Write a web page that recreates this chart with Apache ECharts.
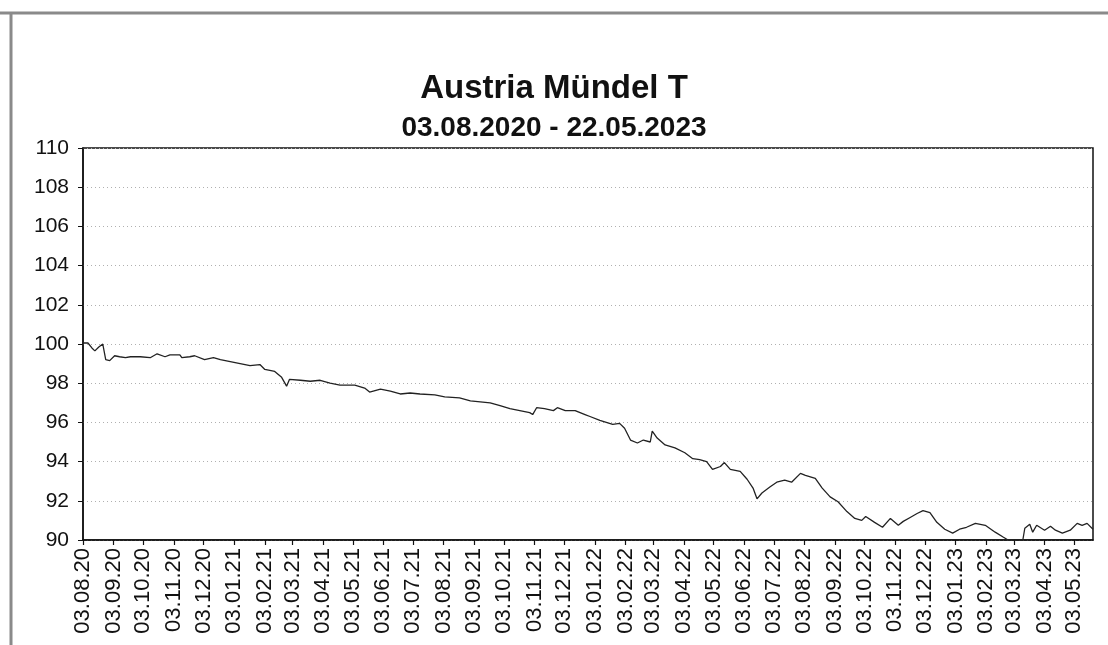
<!DOCTYPE html>
<html>
<head>
<meta charset="utf-8">
<script src="https://cdn.jsdelivr.net/npm/echarts@6/dist/echarts.min.js"></script>
<style>
html,body{margin:0;padding:0;background:#fff;}
#chart{width:1108px;height:645px;}
</style>
</head>
<body>
<div id="chart"></div>
<script>
// ---- Data ----
const titleText = 'Austria Mündel T';
const subtitleText = '03.08.2020 - 22.05.2023';
const startDate = [2020, 8, 3];   // 03.08.2020
const endDate = [2023, 5, 22];    // 22.05.2023

// Month tick labels shown on the x axis
const monthTickLabels = [
  '03.08.20','03.09.20','03.10.20','03.11.20','03.12.20',
  '03.01.21','03.02.21','03.03.21','03.04.21','03.05.21','03.06.21','03.07.21',
  '03.08.21','03.09.21','03.10.21','03.11.21','03.12.21',
  '03.01.22','03.02.22','03.03.22','03.04.22','03.05.22','03.06.22','03.07.22',
  '03.08.22','03.09.22','03.10.22','03.11.22','03.12.22',
  '03.01.23','03.02.23','03.03.23','03.04.23','03.05.23'
];

// Y axis
const yMin = 90, yMax = 110, yStep = 2;

// Observation dates, as days since 03.08.2020
const dayOffsets = [
  0,5,9,12,16,20,22,23,27,32,37,43,48,58,68,75,83,88,98,100,
  108,113,123,132,139,149,159,169,179,184,194,201,206,209,220,230,240,250,260,275,
  285,290,301,311,321,331,341,356,366,381,392,402,412,422,432,442,452,455,459,467,
  476,480,488,498,508,513,523,536,543,548,554,561,567,574,576,581,589,599,609,617,
  624,631,637,645,649,655,665,672,678,682,687,695,702,710,717,726,731,741,748,756,
  764,773,781,788,792,801,809,817,825,830,837,844,850,857,864,872,880,887,894,903,
  913,923,931,936,943,951,953,958,961,965,973,979,984,991,999,1006,1011,1016,1022
];
// Index values at those dates
const indexValues = [
  100.05,100.05,99.8,99.65,99.85,100.0,99.95,99.2,99.15,99.4,99.35,99.3,99.35,99.35,99.3,99.5,99.35,99.45,99.45,99.3,
  99.35,99.4,99.2,99.3,99.2,99.1,99.0,98.9,98.95,98.7,98.6,98.3,97.85,98.2,98.15,98.1,98.15,98.0,97.9,97.9,
  97.75,97.55,97.7,97.6,97.45,97.5,97.45,97.4,97.3,97.25,97.1,97.05,97.0,96.85,96.7,96.6,96.5,96.4,96.75,96.7,
  96.6,96.75,96.6,96.6,96.4,96.3,96.1,95.9,95.95,95.7,95.1,94.95,95.1,95.0,95.55,95.2,94.85,94.7,94.45,94.15,
  94.1,94.0,93.6,93.75,93.95,93.6,93.5,93.1,92.65,92.1,92.4,92.7,92.95,93.05,92.95,93.4,93.3,93.15,92.65,92.2,
  91.95,91.45,91.1,91.0,91.2,90.9,90.65,91.1,90.75,90.95,91.15,91.35,91.5,91.4,90.9,90.55,90.35,90.55,90.65,90.85,
  90.75,90.4,90.15,90.0,90.0,90.0,90.6,90.8,90.4,90.75,90.5,90.7,90.5,90.35,90.5,90.85,90.75,90.85,90.55
];

// ---- Build daily categories ----
function pad(n){return (n<10?'0':'')+n;}
const dayCategories = [];
{
  let t = Date.UTC(startDate[0], startDate[1]-1, startDate[2]);
  const tEnd = Date.UTC(endDate[0], endDate[1]-1, endDate[2]);
  while (t <= tEnd) {
    const d = new Date(t);
    dayCategories.push(pad(d.getUTCDate())+'.'+pad(d.getUTCMonth()+1)+'.'+String(d.getUTCFullYear()).slice(2));
    t += 86400000;
  }
}
const tickSet = new Set(monthTickLabels);
const seriesData = dayOffsets.map((d,i)=>[d, indexValues[i]]);

const chart = echarts.init(document.getElementById('chart'), null, {renderer:'canvas'});
const fontTitle = "'Liberation Sans', Arial, sans-serif";
const fontAxis = "'Liberation Sans', Arial, sans-serif";
chart.setOption({
  backgroundColor:'#fff',
  animation:false,
  title:{
    text:titleText,
    subtext:subtitleText,
    left:'center',
    top:67,
    itemGap:9,
    textStyle:{fontFamily:fontTitle,fontWeight:'bold',fontSize:33,color:'#111'},
    subtextStyle:{fontFamily:fontTitle,fontWeight:'bold',fontSize:28,color:'#111'}
  },
  graphic:[
    {type:'line',shape:{x1:0,y1:13,x2:1108,y2:13},style:{stroke:'#8a8a8a',lineWidth:3}},
    {type:'line',shape:{x1:11,y1:12,x2:11,y2:645},style:{stroke:'#8a8a8a',lineWidth:3}}
  ],
  grid:{left:83,right:15,top:148,bottom:105,show:true,borderColor:'#111',borderWidth:1.5,backgroundColor:'transparent'},
  xAxis:{
    type:'category',
    data:dayCategories,
    boundaryGap:false,
    axisLine:{lineStyle:{color:'#111',width:1.5}},
    axisTick:{show:true,length:5,interval:(idx,val)=>tickSet.has(val),lineStyle:{color:'#111',width:1.2}},
    axisLabel:{interval:(idx,val)=>tickSet.has(val),rotate:90,margin:8,fontSize:22,color:'#111',fontFamily:fontAxis},
    splitLine:{show:false}
  },
  yAxis:{
    type:'value',
    min:yMin,max:yMax,interval:yStep,
    axisLine:{show:true,lineStyle:{color:'#111',width:1.5}},
    axisTick:{show:true,length:5,lineStyle:{color:'#111'}},
    axisLabel:{fontSize:21,color:'#111',margin:14,fontFamily:fontAxis},
    splitLine:{show:true,lineStyle:{color:'#b0b0b0',type:[1,3],width:1}}
  },
  series:[{
    type:'line',
    data:seriesData,
    showSymbol:false,
    clip:true,
    lineStyle:{color:'#222',width:1.3},
    silent:true
  }]
});
</script>
</body>
</html>
